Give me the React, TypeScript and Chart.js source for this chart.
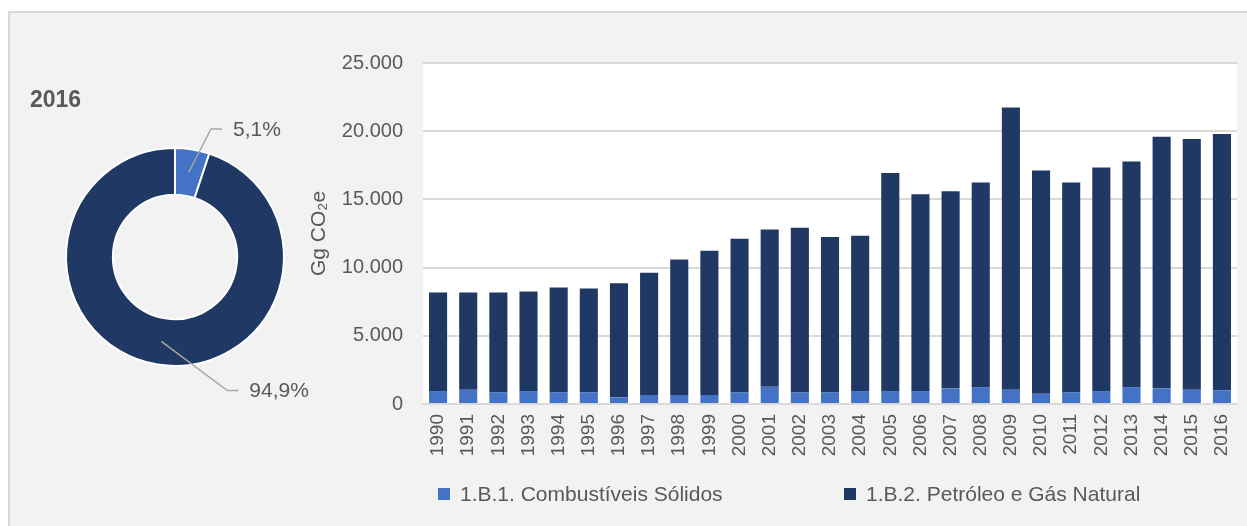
import React, { useEffect, useRef } from 'react';
import { Chart, registerables } from 'chart.js';

Chart.register(...registerables);

const years = [
  '1990', '1991', '1992', '1993', '1994', '1995', '1996', '1997', '1998', '1999',
  '2000', '2001', '2002', '2003', '2004', '2005', '2006', '2007', '2008', '2009',
  '2010', '2011', '2012', '2013', '2014', '2015', '2016',
];

const solidos = [
  950, 1050, 850, 950, 850, 850, 490, 660, 660, 660,
  850, 1270, 850, 850, 950, 950, 950, 1150, 1240, 1050,
  760, 850, 950, 1240, 1150, 1050, 1010,
];

const petroleo = [
  7220, 7120, 7320, 7290, 7690, 7610, 8360, 8970, 9930, 10580,
  11270, 11530, 12080, 11390, 11390, 15980, 14420, 14440, 15000, 20680,
  16360, 15390, 16390, 16540, 18440, 18370, 18790,
];

const seriesLabels = ['1.B.1. Combustíveis Sólidos', '1.B.2. Petróleo e Gás Natural'];
const seriesColors = ['#4472C4', '#203864'];
const donutYear = '2016';
const yAxisTitle = 'Gg CO₂e';
const yMax = 25000;
const yStep = 5000;

const FONT = "'Liberation Sans', Arial, sans-serif";
const TEXT = '#595959';

const fmtThousands = (v: number) => String(v).replace(/\B(?=(\d{3})+(?!\d))/g, '.');

const plotBackground = {
  id: 'plotBackground',
  beforeDraw(chart: any) {
    const { ctx, chartArea } = chart;
    ctx.save();
    ctx.fillStyle = '#ffffff';
    ctx.fillRect(chartArea.left, chartArea.top, chartArea.right - chartArea.left, chartArea.bottom - chartArea.top);
    ctx.restore();
  },
};

const bottomLegend = {
  id: 'bottomLegend',
  afterDraw(chart: any) {
    const { ctx, chartArea } = chart;
    const y = chart.height - 32;
    ctx.save();
    chart.data.datasets.forEach((ds: any, i: number) => {
      const bx = chartArea.left + 15 + i * 406;
      ctx.fillStyle = ds.backgroundColor;
      ctx.fillRect(bx, y - 6, 12, 12);
      ctx.fillStyle = TEXT;
      ctx.font = `21px ${FONT}`;
      ctx.textAlign = 'left';
      ctx.textBaseline = 'middle';
      ctx.fillText(ds.label, bx + 22, y + 1);
    });
    ctx.restore();
  },
};

// elbow offsets relative to the outer radius, for each slice's label leader line
const elbowFactors = [
  [0.33, -1.175],
  [0.48, 1.225],
];

const donutLabels = {
  id: 'donutLabels',
  afterDraw(chart: any) {
    const { ctx } = chart;
    const meta = chart.getDatasetMeta(0);
    const values: number[] = chart.data.datasets[0].data;
    const total = values.reduce((a, b) => a + b, 0);
    ctx.save();
    ctx.fillStyle = TEXT;
    ctx.font = `bold 23px ${FONT}`;
    ctx.textAlign = 'left';
    ctx.textBaseline = 'middle';
    ctx.fillText(donutYear, 20, 88);

    meta.data.forEach((arc: any, i: number) => {
      const p = arc.getProps(['x', 'y', 'startAngle', 'endAngle', 'innerRadius', 'outerRadius'], true);
      const mid = (p.startAngle + p.endAngle) / 2;
      const r = (p.innerRadius + p.outerRadius) / 2;
      const sx = p.x + Math.cos(mid) * r;
      const sy = p.y + Math.sin(mid) * r;
      const ex = p.x + elbowFactors[i][0] * p.outerRadius;
      const ey = p.y + elbowFactors[i][1] * p.outerRadius;
      const hx = ex + 11;
      ctx.strokeStyle = '#a6a6a6';
      ctx.lineWidth = 1.5;
      ctx.beginPath();
      ctx.moveTo(sx, sy);
      ctx.lineTo(ex, ey);
      ctx.lineTo(hx, ey);
      ctx.stroke();
      const pct = ((values[i] / total) * 100).toFixed(1).replace('.', ',') + '%';
      ctx.fillStyle = TEXT;
      ctx.font = `21px ${FONT}`;
      ctx.textAlign = 'left';
      ctx.textBaseline = 'middle';
      ctx.fillText(pct, hx + 11, ey + 1);
    });
    ctx.restore();
  },
};

export default function App() {
  const donutRef = useRef<HTMLCanvasElement>(null);
  const barRef = useRef<HTMLCanvasElement>(null);

  useEffect(() => {
    document.documentElement.style.overflow = 'hidden';
    document.body.style.overflow = 'hidden';
    const di = years.indexOf(donutYear);
    const donutValues = [solidos[di], petroleo[di]];

    const donut = new Chart(donutRef.current as HTMLCanvasElement, {
      type: 'doughnut',
      data: {
        labels: seriesLabels,
        datasets: [
          {
            data: donutValues,
            backgroundColor: seriesColors,
            borderColor: '#ffffff',
            borderWidth: 2,
            hoverOffset: 0,
          },
        ],
      },
      options: {
        animation: false,
        responsive: false,
        cutout: '57%',
        layout: { padding: { left: 55, top: 134, right: 45, bottom: 126 } },
        plugins: { legend: { display: false }, tooltip: { enabled: false } },
      } as any,
      plugins: [donutLabels],
    });

    const bar = new Chart(barRef.current as HTMLCanvasElement, {
      type: 'bar',
      data: {
        labels: years,
        datasets: [
          { label: seriesLabels[0], data: solidos, backgroundColor: seriesColors[0] },
          { label: seriesLabels[1], data: petroleo, backgroundColor: seriesColors[1] },
        ],
      },
      options: {
        animation: false,
        responsive: false,
        maintainAspectRatio: false,
        layout: { padding: { left: 0, top: 50, right: 10, bottom: 62 } },
        datasets: { bar: { barPercentage: 0.6, categoryPercentage: 1 } },
        scales: {
          x: {
            stacked: true,
            grid: { display: false, drawTicks: false },
            border: { display: true, color: '#d9d9d9', width: 2 },
            ticks: {
              autoSkip: false,
              minRotation: 90,
              maxRotation: 90,
              padding: 10,
              color: TEXT,
              font: { size: 19, family: FONT },
            },
            afterFit: (s: any) => {
              s.height = 60;
              s.paddingLeft = 0;
              s.paddingRight = 0;
            },
          },
          y: {
            stacked: true,
            min: 0,
            max: yMax,
            ticks: {
              stepSize: yStep,
              padding: 20,
              color: TEXT,
              font: { size: 20, family: FONT },
              callback: (v: any) => fmtThousands(Number(v)),
            },
            grid: { color: '#d9d9d9', lineWidth: 2, drawTicks: false },
            border: { display: false },
            title: {
              display: true,
              text: yAxisTitle,
              color: TEXT,
              font: { size: 21, family: FONT },
              padding: { top: 17, bottom: 0 },
            },
            afterFit: (s: any) => {
              s.width = 133;
              s.paddingTop = 0;
              s.paddingBottom = 0;
            },
          },
        },
        plugins: { legend: { display: false }, tooltip: { enabled: false } },
      } as any,
      plugins: [plotBackground, bottomLegend],
    });

    return () => {
      donut.destroy();
      bar.destroy();
    };
  }, []);

  return (
    <div
      style={{
        position: 'fixed',
        left: 8,
        top: 11,
        width: 1239,
        height: 515,
        boxSizing: 'border-box',
        background: '#f2f2f2',
        borderLeft: '2px solid #d9d9d9',
        borderTop: '2px solid #d9d9d9',
        overflow: 'hidden',
      }}
    >
      <canvas
        ref={donutRef}
        width={320}
        height={480}
        style={{ position: 'absolute', left: 0, top: 0, width: 320, height: 480 }}
      />
      <canvas
        ref={barRef}
        width={957}
        height={513}
        style={{ position: 'absolute', left: 280, top: 0, width: 957, height: 513 }}
      />
    </div>
  );
}
